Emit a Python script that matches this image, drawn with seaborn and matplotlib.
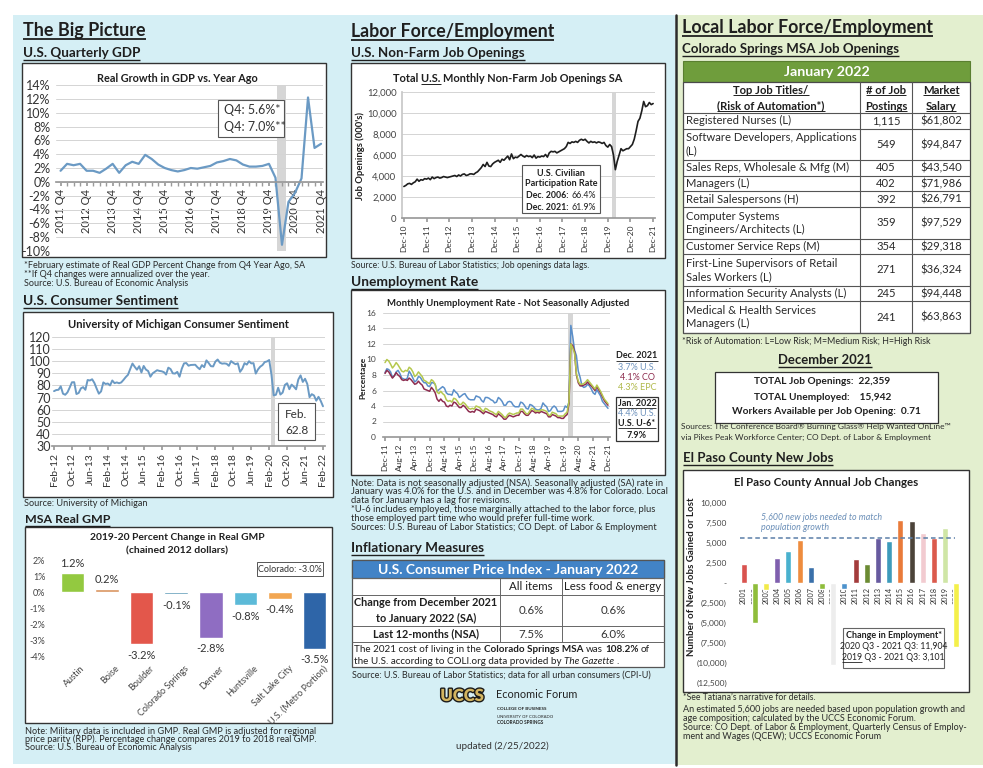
import matplotlib
matplotlib.use('Agg')
import matplotlib.pyplot as plt
import matplotlib.patches as mpatches
import matplotlib.patheffects as pe
from matplotlib.lines import Line2D
from matplotlib.transforms import ScaledTranslation
import seaborn as sns
import pandas as pd
import numpy as np

# ---------------- data ----------------
# U.S. quarterly real GDP growth vs. year ago (%), 2011 Q4 .. 2021 Q4
gdp_ticks = ['2011 Q4', '2012 Q4', '2013 Q4', '2014 Q4', '2015 Q4', '2016 Q4',
             '2017 Q4', '2018 Q4', '2019 Q4', '2020 Q4', '2021 Q4']
gdp_growth = [1.6,
              2.6, 2.4, 2.6, 1.6,
              1.6, 1.3, 1.9, 2.6,
              1.3, 2.4, 2.9, 2.6,
              3.9, 3.3, 2.5, 2.0,
              1.7, 1.5, 1.7, 2.0,
              1.9, 2.1, 2.3, 2.8,
              3.0, 3.3, 3.1, 2.5,
              2.2, 2.2, 2.3, 2.6,
              0.6, -9.1, -2.9, -1.6,
              0.5, 12.2, 4.9, 5.5]

# University of Michigan consumer sentiment, Feb-12 .. Feb-22
sent_ticks = ['Feb-12', 'Oct-12', 'Jun-13', 'Feb-14', 'Oct-14', 'Jun-15', 'Feb-16', 'Oct-16',
              'Jun-17', 'Feb-18', 'Oct-18', 'Jun-19', 'Feb-20', 'Oct-20', 'Jun-21', 'Feb-22']
sentiment = [75.3, 76.2, 76.4, 79.3, 73.2, 72.3, 74.3, 78.3, 82.6, 82.7, 72.9,
             73.8, 77.6, 78.6, 76.4, 84.5, 84.1, 85.1, 82.1, 77.5, 73.2, 75.1, 82.5,
             81.2, 81.6, 80.0, 84.1, 81.9, 82.5, 81.8, 82.5, 84.6, 86.9, 88.8, 93.6,
             98.1, 95.4, 93.0, 95.9, 90.7, 96.1, 93.1, 91.9, 87.2, 90.0, 91.3, 92.6,
             92.0, 91.7, 91.0, 89.0, 94.7, 93.5, 90.0, 89.8, 91.2, 87.2, 93.8, 98.2,
             98.5, 96.3, 96.9, 97.0, 97.1, 95.0, 93.4, 96.8, 95.1, 100.7, 98.5, 95.9,
             95.7, 99.7, 101.4, 98.8, 98.0, 98.2, 97.9, 96.2, 100.1, 98.6, 97.5, 98.3,
             91.2, 93.8, 98.4, 97.2, 100.0, 98.2, 98.4, 89.8, 93.2, 95.5, 96.8, 99.3,
             99.8, 101.0, 89.1, 71.8, 72.3, 78.1, 72.5, 74.1, 80.4, 81.8, 76.9, 80.7,
             79.0, 76.8, 84.9, 88.3, 82.9, 85.5, 81.2, 70.3, 72.8, 71.7, 67.4, 70.6,
             67.2, 62.8]

# MSA real GMP, 2019-20 percent change
gmp_areas = ['Austin', 'Boise', 'Boulder', 'Colorado Springs', 'Denver', 'Huntsville',
             'Salt Lake City', 'U.S. (Metro Portion)']
gmp_change = [1.2, 0.2, -3.2, -0.1, -2.8, -0.8, -0.4, -3.5]
gmp_colors = ['#93c940', '#d9935e', '#e3574b', '#3d87a9', '#8f6dc2', '#5cbad8', '#f2a652', '#2e65a8']

# U.S. non-farm job openings (000's, SA), Dec-10 .. Dec-21
jobs_ticks = ['Dec-10', 'Dec-11', 'Dec-12', 'Dec-13', 'Dec-14', 'Dec-15',
              'Dec-16', 'Dec-17', 'Dec-18', 'Dec-19', 'Dec-20', 'Dec-21']
job_openings = [3000,
                3100, 3250, 3300, 3200, 3350, 3450, 3700, 3500, 3650, 3600, 3750, 3700,
                3800, 3650, 3900, 3750, 3850, 3900, 3800, 3850, 3950, 3900, 3850, 3900,
                3950, 4000, 4050, 3950, 4100, 4000, 4150, 4200, 4050, 4100, 4200, 4200,
                4150, 4300, 4400, 4600, 4800, 5100, 4900, 5300, 4950, 4900, 5150, 5300,
                5400, 5500, 5300, 5600, 5500, 5700, 5900, 5550, 6100, 5650, 5800, 5750,
                5900, 6050, 5900, 5800, 5950, 5850, 5900, 5750, 6000, 5700, 5850, 5800,
                5900, 5850, 6050, 5800, 6200, 6350, 6300, 6350, 6200, 6300, 6400, 6500,
                6600, 6800, 7200, 7100, 7250, 7200, 7300, 7200, 7400, 7500, 7400, 7500,
                7300, 7150, 7300, 7200, 7250, 7150, 7250, 7200, 7100, 7200, 6900, 6750,
                7000, 6800, 6000, 4600, 5400, 6000, 6600, 6400, 6500, 6600, 6600, 6800,
                7000, 7500, 8300, 9200, 9500, 10200, 11100, 10600, 10700, 11000, 10800, 10900]

# Monthly unemployment rate (NSA), Dec-11 .. Dec-21
unemp_ticks = ['Dec-11', 'Aug-12', 'Apr-13', 'Dec-13', 'Aug-14', 'Apr-15', 'Dec-15', 'Aug-16',
               'Apr-17', 'Dec-17', 'Aug-18', 'Apr-19', 'Dec-19', 'Aug-20', 'Apr-21', 'Dec-21']
unemp_us = [8.3,
            8.8, 8.7, 8.4, 7.7, 7.9, 8.4, 8.6, 8.2, 7.6, 7.5, 7.4, 7.6,
            8.5, 8.1, 7.6, 7.1, 7.3, 7.8, 7.7, 7.3, 7.0, 7.0, 6.6, 6.5,
            7.0, 7.0, 6.8, 5.9, 6.1, 6.3, 6.5, 6.3, 5.7, 5.5, 5.5, 5.4,
            6.1, 5.8, 5.6, 5.1, 5.3, 5.5, 5.6, 5.2, 4.9, 4.8, 4.8, 4.8,
            5.3, 5.2, 5.1, 4.7, 4.5, 5.1, 5.1, 5.0, 4.8, 4.7, 4.4, 4.5,
            5.1, 4.9, 4.6, 4.1, 4.1, 4.5, 4.6, 4.5, 4.1, 3.9, 3.9, 3.9,
            4.5, 4.4, 4.1, 3.7, 3.6, 4.2, 4.1, 3.9, 3.6, 3.5, 3.5, 3.7,
            4.4, 4.1, 3.9, 3.3, 3.4, 3.8, 4.0, 3.8, 3.3, 3.3, 3.3, 3.4,
            4.0, 3.8, 4.5, 14.4, 13.0, 11.2, 10.5, 8.5, 7.7, 6.6, 6.4, 6.5,
            6.8, 6.6, 6.2, 5.7, 5.5, 6.1, 5.7, 5.3, 4.6, 4.3, 4.0, 3.7]
unemp_co = [8.2,
            8.6, 8.4, 8.0, 7.6, 7.9, 8.3, 8.0, 7.8, 7.4, 7.3, 7.4, 7.3,
            7.6, 7.4, 7.1, 6.8, 6.9, 7.2, 6.9, 6.7, 6.2, 6.1, 6.0, 5.9,
            6.4, 6.1, 5.7, 4.9, 4.6, 4.9, 4.6, 4.5, 4.0, 3.9, 4.1, 4.0,
            4.5, 4.4, 4.1, 3.8, 3.8, 4.1, 3.9, 3.6, 3.3, 3.2, 3.3, 3.2,
            3.6, 3.5, 3.4, 3.2, 3.0, 3.3, 3.2, 3.1, 3.0, 2.9, 2.7, 2.6,
            3.0, 2.8, 2.6, 2.3, 2.3, 2.6, 2.8, 2.7, 2.6, 2.7, 2.8, 2.8,
            3.3, 3.3, 3.0, 2.8, 2.8, 3.1, 3.4, 3.3, 3.1, 3.2, 3.1, 3.3,
            3.2, 3.1, 3.0, 2.6, 2.6, 2.9, 2.8, 2.7, 2.5, 2.5, 2.4, 2.4,
            2.7, 2.9, 4.3, 12.0, 11.8, 11.0, 8.0, 7.0, 6.6, 6.6, 6.7, 6.8,
            7.1, 6.8, 6.6, 6.3, 6.0, 6.5, 6.1, 5.7, 5.2, 4.7, 4.4, 4.1]
unemp_epc = [9.6,
             10.0, 9.8, 9.4, 8.9, 9.2, 9.6, 9.3, 8.9, 8.5, 8.4, 8.6, 8.5,
             9.0, 8.8, 8.4, 7.8, 8.0, 8.4, 8.1, 7.8, 7.3, 7.2, 7.0, 6.9,
             7.4, 7.2, 6.8, 5.8, 5.6, 5.9, 5.6, 5.4, 4.8, 4.6, 4.7, 4.5,
             5.0, 4.9, 4.6, 4.2, 4.2, 4.5, 4.3, 4.0, 3.7, 3.6, 3.7, 3.6,
             4.0, 3.9, 3.8, 3.5, 3.3, 3.7, 3.6, 3.4, 3.3, 3.2, 3.0, 2.9,
             3.3, 3.1, 2.9, 2.6, 2.5, 2.9, 3.1, 3.0, 2.9, 3.0, 3.1, 3.1,
             3.6, 3.6, 3.3, 3.0, 3.0, 3.4, 3.7, 3.6, 3.3, 3.4, 3.3, 3.5,
             3.5, 3.4, 3.3, 2.8, 2.8, 3.2, 3.1, 3.0, 2.7, 2.7, 2.7, 2.7,
             3.0, 3.2, 4.6, 12.0, 11.5, 10.8, 8.2, 7.2, 6.8, 6.8, 6.9, 7.1,
             7.4, 7.1, 6.8, 6.5, 6.2, 6.7, 6.3, 5.9, 5.4, 4.9, 4.6, 4.3]

# CPI table
cpi_rows = ['Change from December 2021\nto January 2022 (SA)', 'Last 12-months (NSA)']
cpi_all_items = [0.6, 7.5]
cpi_core = [0.6, 6.0]

# Colorado Springs MSA job openings, January 2022
job_titles = ['Registered Nurses (L)', 'Software Developers, Applications\n(L)',
              'Sales Reps, Wholesale & Mfg (M)', 'Managers (L)', 'Retail Salespersons (H)',
              'Computer Systems\nEngineers/Architects (L)', 'Customer Service Reps (M)',
              'First-Line Supervisors of Retail\nSales Workers (L)',
              'Information Security Analysts (L)', 'Medical & Health Services\nManagers (L)']
job_postings = [1115, 549, 405, 402, 392, 359, 354, 271, 245, 241]
job_salary = [61802, 94847, 43540, 71986, 26791, 97529, 29318, 36324, 94448, 63863]
total_openings = 22359
total_unemployed = 15942
workers_per_opening = 0.71

# El Paso County annual job changes
epc_years = ['2001', '2002', '2003', '2004', '2005', '2006', '2007', '2008', '2009', '2010',
             '2011', '2012', '2013', '2014', '2015', '2016', '2017', '2018', '2019', '2020']
epc_jobs = [2400, -5000, -900, 3100, 4050, 5400, 1950, -750, -10300, -750,
            3000, 2400, 5600, 5300, 7900, 7700, 6200, 5600, 6900, -8000]
epc_colors = ['#d9534f', '#8fbd3b', '#f2ea4a', '#7f5fae', '#49b1ce', '#ee8c3e', '#3a70aa',
              '#8fbd3b', '#ededed', '#4d92cc', '#a33c3c', '#6b8b33', '#675a9f', '#3d9bbb',
              '#e97b3a', '#4b4339', '#f2cbd0', '#db5a4c', '#cfe6a6', '#f4f04a']
jobs_needed = 5600

# ---------------- setup ----------------
sns.set_theme(style='white')
plt.rcParams['font.family'] = ['Lato', 'DejaVu Sans']
plt.rcParams['axes.unicode_minus'] = False

W, H = 983, 768
INK = '#1f1f1f'
fig = plt.figure(figsize=(W / 100, H / 100), dpi=100)
fig.patch.set_facecolor('white')
pg = fig.add_axes([0, 0, 1, 1], zorder=0)
pg.set_xlim(0, W)
pg.set_ylim(H, 0)
pg.set_autoscale_on(False)
pg.axis('off')
R = fig.canvas.get_renderer()


def put(x, y, s, size, weight='normal', color=INK, ha='left', va='center', style='normal', ax=None, **kw):
    tgt = ax if ax is not None else pg
    return tgt.text(x, y, s, fontsize=size, fontweight=weight, fontstyle=style, color=color,
                    ha=ha, va=va, transform=pg.transData, clip_on=False, **kw)


def measure(s, size, weight='normal', style='normal'):
    t = pg.text(0, 0, s, fontsize=size, fontweight=weight, fontstyle=style)
    w = t.get_window_extent(R).width
    t.remove()
    return w


def fit(s, width, weight='normal', style='normal'):
    return 10 * width / measure(s, 10, weight, style)


def hline(x0, x1, y, lw=0.8, color=INK, ax=None, **kw):
    tgt = ax if ax is not None else pg
    tgt.add_line(Line2D([x0, x1], [y, y], transform=pg.transData, color=color, lw=lw,
                        solid_capstyle='butt', clip_on=False, **kw))


def vline(x, y0, y1, lw=0.8, color=INK, ax=None):
    tgt = ax if ax is not None else pg
    tgt.add_line(Line2D([x, x], [y0, y1], transform=pg.transData, color=color, lw=lw, clip_on=False))


def under(t, y, lw=0.8, ax=None, color=INK):
    bb = t.get_window_extent(R)
    hline(bb.x0, bb.x1, y, lw=lw, ax=ax, color=color)


def rect(x0, y0, x1, y1, fc='white', ec='#333333', lw=1.0, ax=None, z=1):
    tgt = ax if ax is not None else pg
    tgt.add_patch(mpatches.Rectangle((x0, y0), x1 - x0, y1 - y0, fc=fc, ec=ec, lw=lw, zorder=z,
                                     transform=pg.transData, clip_on=False))


def heading(x, base, s, width, lw=1.0, ha='left'):
    t = put(x, base, s, fit(s, width, 'bold'), 'bold', va='baseline', ha=ha)
    under(t, base + 2.5, lw=lw)
    return t


def notes(x, y0, step, lines, width, color='#2a2a2a'):
    size = fit(lines[0], width)
    for i, s in enumerate(lines):
        put(x, y0 + i * step, s, size, color=color)
    return size


def runs(x, y, parts, size, ha='left', color=INK, ax=None):
    sp = measure('a a', size) - measure('aa', size)
    items, cur = [], 0.0
    for s, w, st in parts:
        if s.startswith(' '):
            cur += sp
        t = put(0, y, s.strip(), size, w, color=color, style=st, ax=ax)
        items.append((t, cur))
        cur += t.get_window_extent(R).width
        if s.endswith(' '):
            cur += sp
    start = x - cur / 2 if ha == 'center' else x
    for t, off in items:
        t.set_x(start + off)


def chart(x0, y0, x1, y1):
    ax = fig.add_axes([x0 / W, 1 - y1 / H, (x1 - x0) / W, (y1 - y0) / H], zorder=2)
    ax.patch.set_visible(False)
    return ax


# ---------------- page backgrounds ----------------
pg.add_patch(mpatches.Rectangle((13, 15), 662, 749, fc='#d5eff5', ec='none', zorder=0))
pg.add_patch(mpatches.Rectangle((677, 15), 306, 750, fc='#e3efcf', ec='none', zorder=0))
vline(675.5, 15, 765, lw=1.8, color='#2b2b2b')

# ================= LEFT COLUMN =================
heading(23, 36, 'The Big Picture', 122, lw=1.3)
heading(23, 57, 'U.S. Quarterly GDP', 117)

# --- GDP chart ---
rect(22, 63, 326, 257)
put(177, 78, 'Real Growth in GDP vs. Year Ago', fit('Real Growth in GDP vs. Year Ago', 161, 'bold'), 'bold', ha='center')
ax = chart(56, 85, 323, 251)
ax.axvspan(33.3, 34.6, color='#d6d6d6', lw=0, zorder=0)
sns.lineplot(x=np.arange(len(gdp_growth)), y=gdp_growth, ax=ax, color='#6b9ac4', lw=1.6)
ax.set_xlim(-0.7, 40.3)
ax.set_ylim(-10, 14)
ax.set_yticks(np.arange(-10, 15, 2))
ax.set_yticklabels([f'{v}%' for v in range(-10, 15, 2)])
ax.grid(axis='y', color='#d4d4d4', lw=0.7)
ax.set_axisbelow(True)
for s in ('top', 'right', 'left'):
    ax.spines[s].set_visible(False)
ax.spines['bottom'].set_position(('data', 0))
ax.spines['bottom'].set_color('#9a9a9a')
ax.set_xticks(np.arange(0, len(gdp_growth), 4))
ax.set_xticklabels(gdp_ticks, rotation=90, fontsize=8)
ax.set_xticks(np.arange(len(gdp_growth)), minor=True)
ax.tick_params(axis='x', which='both', bottom=True, length=3, color='#9a9a9a', pad=2, labelcolor='#333')
ax.tick_params(axis='y', length=0, labelsize=9, pad=4, labelcolor='#333')
ax.set(xlabel='', ylabel='')
rect(218, 100, 284, 137, ec='#555555', lw=0.8, ax=ax, z=5)
put(224, 110, 'Q4: 5.6%*', 9, ax=ax, color='#333', zorder=6)
put(224, 127, 'Q4: 7.0%**', 9, ax=ax, color='#333', zorder=6)

notes(24, 266, 8.7, ['*February estimate of Real GDP Percent Change from Q4 Year Ago, SA',
                     '**If Q4 changes were annualized over the year.',
                     'Source: U.S. Bureau of Economic Analysis'], 280)

# --- Consumer sentiment ---
heading(23, 305, 'U.S. Consumer Sentiment', 156)
rect(23, 312, 333, 497)
put(178, 325, 'University of Michigan Consumer Sentiment',
    fit('University of Michigan Consumer Sentiment', 223, 'bold'), 'bold', ha='center')
ax = chart(52, 337, 325, 446)
ax.axvspan(96.9, 98.6, color='#d6d6d6', lw=0, zorder=0)
sns.lineplot(x=np.arange(len(sentiment)), y=sentiment, ax=ax, color='#6b9ac4', lw=1.4)
ax.set_xlim(-0.9, 120.9)
ax.set_ylim(30, 120)
ax.set_yticks(np.arange(30, 121, 10))
ax.grid(axis='y', color='#d4d4d4', lw=0.7)
ax.set_axisbelow(True)
for s in ('top', 'right', 'left'):
    ax.spines[s].set_visible(False)
ax.spines['bottom'].set_color('#9a9a9a')
ax.set_xticks(np.arange(0, len(sentiment), 8))
ax.set_xticklabels(sent_ticks, rotation=90, fontsize=7.5)
ax.tick_params(axis='x', bottom=True, length=3, color='#9a9a9a', pad=2, labelcolor='#333')
ax.tick_params(axis='y', length=0, labelsize=9, pad=1, labelcolor='#333')
ax.set(xlabel='', ylabel='')
rect(278, 403, 315, 440, ec='#555555', lw=0.8, ax=ax, z=5)
t = put(296.5, 414, 'Feb.', 8.5, ha='center', ax=ax, color='#333', zorder=6)
under(t, 419.5, lw=0.7, ax=ax, color='#333')
put(296.5, 431, f'{sentiment[-1]}', 8.5, ha='center', ax=ax, color='#333', zorder=6)
notes(24, 503, 9, ['Source: University of Michigan'], 123)

# --- MSA real GMP ---
heading(25, 523, 'MSA Real GMP', 85)
rect(25, 527, 332, 723)
put(177, 538, '2019-20 Percent Change in Real GMP', fit('2019-20 Percent Change in Real GMP', 175, 'bold'), 'bold', ha='center')
put(177, 551, '(chained 2012 dollars)', fit('(chained 2012 dollars)', 102, 'bold'), 'bold', ha='center')
ax = chart(55, 560, 332, 657)
sns.barplot(x=gmp_areas, y=gmp_change, hue=gmp_areas, palette=gmp_colors, saturation=1,
            width=0.68, legend=False, ax=ax)
ax.set_xlim(-0.5, 7.5)
ax.set_ylim(-4, 2)
ax.set_yticks(np.arange(-4, 3, 1))
ax.set_yticklabels([f'{v}%' for v in range(-4, 3)])
sns.despine(ax=ax, left=True, bottom=True)
ax.tick_params(axis='y', length=0, labelsize=6.5, pad=7, labelcolor='#444')
ax.tick_params(axis='x', length=0, labelsize=6.5, pad=5, labelcolor='#444')
for lbl in ax.get_xticklabels():
    lbl.set_rotation(45)
    lbl.set_ha('right')
    lbl.set_va('top')
    lbl.set_rotation_mode('anchor')
    lbl.set_transform(lbl.get_transform() + ScaledTranslation(0.08, 0, fig.dpi_scale_trans))
for i, v in enumerate(gmp_change):
    ax.annotate(f'{v}%', (i, v), xytext=(0, 3 if v > 0 else -4), textcoords='offset points',
                ha='center', va='bottom' if v > 0 else 'top', fontsize=8, color='#333')
ax.set(xlabel='', ylabel='')
rect(257, 562, 323, 576, ec='#555555', lw=0.7)
put(290, 569, 'Colorado: -3.0%', 6.5, ha='center', color='#333', zorder=3)
notes(25, 731, 8.5, ['Note: Military data is included in GMP. Real GMP is adjusted for regional',
                     'price parity (RPP). Percentage change compares 2019 to 2018 real GMP.',
                     'Source: U.S. Bureau of Economic Analysis'], 290)

# ================= MIDDLE COLUMN =================
heading(351, 37, 'Labor Force/Employment', 204, lw=1.3)
heading(351, 57, 'U.S. Non-Farm Job Openings', 172)

# --- job openings ---
rect(351, 63, 665, 258)
jt = 'Total U.S. Monthly Non-Farm Job Openings SA'
jsz = fit(jt, 230, 'bold')
t = put(508, 78, jt, jsz, 'bold', ha='center')
bb = t.get_window_extent(R)
u0 = bb.x0 + measure('Total U.S.', jsz, 'bold') - measure('U.S.', jsz, 'bold')
hline(u0, u0 + measure('U.S.', jsz, 'bold'), 83.5, lw=0.7)
ax = chart(402, 92, 655, 218)
ax.axvspan(110.2, 112.2, color='#d6d6d6', lw=0, zorder=0)
sns.lineplot(x=np.arange(len(job_openings)), y=job_openings, ax=ax, color='#1e1e1e', lw=1.2)
ax.set_xlim(-1, 133)
ax.set_ylim(0, 12000)
ax.set_yticks(np.arange(0, 12001, 2000))
ax.set_yticklabels([f'{v:,}' for v in range(0, 12001, 2000)])
ax.grid(axis='y', color='#d4d4d4', lw=0.7)
ax.set_axisbelow(True)
for s in ('top', 'right'):
    ax.spines[s].set_visible(False)
ax.spines['left'].set_color('#c8c8c8')
ax.spines['bottom'].set_color('#9a9a9a')
ax.set_xticks(np.arange(0, len(job_openings), 12))
ax.set_xticklabels(jobs_ticks, rotation=90, fontsize=6)
ax.tick_params(axis='x', bottom=True, length=3, color='#9a9a9a', pad=2, labelcolor='#333')
ax.tick_params(axis='y', length=0, labelsize=6.8, pad=4, labelcolor='#444')
ax.set(xlabel='', ylabel='')
put(360, 156, "Job Openings (000's)", 6.8, 'bold', ha='center', rotation=90)
rect(522, 165, 600, 213, ec='#555555', lw=0.8, ax=ax, z=5)
for yy, s in ((173, 'U.S. Civilian'), (184, 'Participation Rate')):
    t = put(561, yy, s, 6.5, 'bold', ha='center', ax=ax, zorder=6)
    under(t, yy + 4.5, lw=0.6, ax=ax)
runs(561, 196, [('Dec. 2006: ', 'bold', 'normal'), ('66.4%', 'normal', 'normal')], 6.3, ha='center', ax=ax)
runs(561, 207, [('Dec. 2021: ', 'bold', 'normal'), ('61.9%', 'normal', 'normal')], 6.3, ha='center', ax=ax)
for c in ax.texts:
    c.set_zorder(6)
notes(351, 266, 9, ['Source: U.S. Bureau of Labor Statistics; Job openings data lags.'], 239)

# --- unemployment ---
heading(351, 286, 'Unemployment Rate', 127)
rect(351, 290, 665, 475)
ut = 'Monthly Unemployment Rate - Not Seasonally Adjusted'
put(508, 303, ut, fit(ut, 243, 'bold'), 'bold', ha='center')
ax = chart(383, 313, 610, 437)
ax.axvspan(98.5, 101, color='#d6d6d6', lw=0, zorder=0)
n = len(unemp_us)
unemp = pd.DataFrame({'month': list(range(n)) * 3,
                      'rate': unemp_us + unemp_co + unemp_epc,
                      'area': ['U.S.'] * n + ['CO'] * n + ['EPC'] * n})
sns.lineplot(data=unemp, x='month', y='rate', hue='area',
             palette={'U.S.': '#5b8fc9', 'CO': '#8e2d4f', 'EPC': '#b5c84e'},
             lw=1.1, legend=False, ax=ax)
ax.set_xlim(-1.08, 121.08)
ax.set_ylim(0, 16)
ax.set_yticks(np.arange(0, 17, 2))
ax.grid(axis='y', color='#d4d4d4', lw=0.7)
ax.set_axisbelow(True)
for s in ('top', 'right', 'left'):
    ax.spines[s].set_visible(False)
ax.spines['bottom'].set_color('#9a9a9a')
ax.set_xticks(np.arange(0, n, 8))
ax.set_xticklabels(unemp_ticks, rotation=90, fontsize=6)
ax.tick_params(axis='x', bottom=True, length=3, color='#9a9a9a', pad=2, labelcolor='#333')
ax.tick_params(axis='y', length=0, labelsize=6, pad=5, labelcolor='#444')
ax.set(xlabel='', ylabel='')
put(363, 378, 'Percentage', 6, 'bold', ha='center', rotation=90)
t = put(637, 356, 'Dec. 2021', 6.5, 'bold', ha='center')
under(t, 360.5, lw=0.6)
put(637, 367, f'{unemp_us[-1]}% U.S.', 6.5, ha='center', color='#6f93bd')
put(637, 377, f'{unemp_co[-1]}% CO', 6.5, ha='center', color='#8e2d4f')
put(637, 387, f'{unemp_epc[-1]}% EPC', 6.5, ha='center', color='#b0b94a')
rect(616, 397, 658, 441, ec='#333333', lw=0.9)
t = put(637, 403, 'Jan. 2022', 6.5, 'bold', ha='center', zorder=3)
under(t, 407.5, lw=0.6)
put(637, 413, '4.4% U.S.', 6.5, ha='center', color='#6f93bd', zorder=3)
t = put(637, 423, 'U.S. U-6*', 6.5, 'bold', ha='center', zorder=3)
under(t, 427.5, lw=0.6)
put(637, 435, '7.9%', 6.5, 'bold', ha='center', zorder=3)
notes(351, 483, 8.9, ['Note: Data is not seasonally adjusted (NSA). Seasonally adjusted (SA) rate in',
                      'January was 4.0% for the U.S. and in December was 4.8% for Colorado. Local',
                      'data for January has a lag for revisions.',
                      '*U-6 includes employed, those marginally attached to the labor force, plus',
                      'those employed part time who would prefer full-time work.',
                      'Sources: U.S. Bureau of Labor Statistics; CO Dept. of Labor & Employment'], 310)

# --- CPI table ---
heading(351, 552, 'Inflationary Measures', 133)
rect(352, 560, 664, 667, ec='#555555', lw=0.9)
rect(352, 560, 664, 578, fc='#4283c6', ec='#555555', lw=0.9)
ct = 'U.S. Consumer Price Index - January 2022'
put(508, 569.5, ct, fit(ct, 261, 'bold'), 'bold', color='white', ha='center')
for yy in (578, 595, 626, 642):
    hline(352, 664, yy, lw=0.7, color='#666')
vline(500, 578, 642, lw=0.7, color='#666')
vline(562, 578, 642, lw=0.7, color='#666')
hsz = fit('Less food & energy', 97)
put(531, 587, 'All items', hsz, ha='center')
put(613, 587, 'Less food & energy', hsz, ha='center')
rsz = fit('Change from December 2021', 144, 'bold')
for (s, a, b), yy in zip(zip(cpi_rows, cpi_all_items, cpi_core), (610.5, 634)):
    put(426, yy, s, rsz, 'bold', ha='center', linespacing=1.45)
    put(531, yy, f'{a}%', hsz, ha='center', color='#333')
    put(613, yy, f'{b}%', hsz, ha='center', color='#333')
lsz = fit('The 2021 cost of living in the Colorado Springs MSA was 108.2% of', 296)
runs(354, 650, [('The 2021 cost of living in the ', 'normal', 'normal'),
                ('Colorado Springs MSA', 'bold', 'normal'), (' was ', 'normal', 'normal'),
                ('108.2%', 'bold', 'normal'), (' of', 'normal', 'normal')], lsz)
runs(354, 661, [('the U.S. according to COLI.org data provided by ', 'normal', 'normal'),
                ('The Gazette', 'normal', 'italic'), (' .', 'normal', 'normal')], lsz)
notes(352, 675, 9, ['Source: U.S. Bureau of Labor Statistics; data for all urban consumers (CPI-U)'], 298)

# --- logo / footer ---
put(462, 696, 'UCCS', 12, 'heavy', color='#d2b460', ha='center',
    path_effects=[pe.withStroke(linewidth=2.0, foreground='#1a1a1a')])
put(496, 695, 'Economic Forum', fit('Economic Forum', 81), color='#222')
put(497, 709, 'COLLEGE OF BUSINESS', fit('COLLEGE OF BUSINESS', 49, 'bold'), 'bold', color='#222')
put(497, 717.5, 'UNIVERSITY OF COLORADO', fit('UNIVERSITY OF COLORADO', 56), color='#222')
put(497, 723, 'COLORADO SPRINGS', fit('COLORADO SPRINGS', 47, 'bold'), 'bold', color='#222')
put(502, 746, 'updated (2/25/2022)', fit('updated (2/25/2022)', 93), ha='center', color='#333')

# ================= RIGHT COLUMN =================
heading(682, 33, 'Local Labor Force/Employment', 251, lw=1.3)
heading(682, 53, 'Colorado Springs MSA Job Openings', 218)

tx0, tx1, c1, c2 = 683, 970, 860, 912
rect(tx0, 61, tx1, 82, fc='#6f9d3c', ec='#5a7f30', lw=0.8)
put((tx0 + tx1) / 2, 72, 'January 2022', fit('January 2022', 86, 'bold'), 'bold', color='white', ha='center')
rect(tx0, 82, tx1, 333, ec='#4a4a4a', lw=0.9)
vline(c1, 82, 333, lw=0.8, color='#555')
vline(c2, 82, 333, lw=0.8, color='#555')
hline(tx0, tx1, 113, lw=0.8, color='#555')
tsz = fit('Registered Nurses (L)', 105)
for xc, l1, l2 in ((771, 'Top Job Titles/', '(Risk of Automation*)'),
                   (886, '# of Job', 'Postings'), (941, 'Market', 'Salary')):
    for yy, s in ((90, l1), (106, l2)):
        t = put(xc, yy, s, tsz, 'bold', ha='center')
        under(t, yy + 5, lw=0.7)
y = 113.0
for title, posts, sal in zip(job_titles, job_postings, job_salary):
    h = 15.7 * (title.count('\n') + 1)
    cy = y + h / 2
    put(686, cy, title, tsz, linespacing=1.3, color='#2a2a2a')
    put(886, cy, f'{posts:,}', tsz, ha='center', color='#2a2a2a')
    put(941, cy, f'${sal:,}', tsz, ha='center', color='#2a2a2a')
    y += h
    hline(tx0, tx1, y, lw=0.8, color='#555')
notes(682, 341, 9, ['*Risk of Automation: L=Low Risk; M=Medium Risk; H=High Risk'], 249)

heading(825, 364, 'December 2021', 95, ha='center')
rect(715, 372, 938, 423, ec='#333333', lw=0.9)
bsz = fit('Workers Available per Job Opening:  0.71', 188, 'bold')
put(822, 382, f'TOTAL Job Openings:  {total_openings:,}', bsz, 'bold', ha='center')
put(823, 397, f'TOTAL Unemployed:    {total_unemployed:,}', bsz, 'bold', ha='center')
put(826, 411, f'Workers Available per Job Opening:  {workers_per_opening}', bsz, 'bold', ha='center')
notes(681, 427, 10, ['Sources: The Conference Board\u00ae Burning Glass\u00ae Help Wanted OnLine\u2122',
                     'via Pikes Peak Workforce Center; CO Dept. of Labor & Employment'], 270)

# --- El Paso County chart ---
heading(683, 462, 'El Paso County New Jobs', 150)
rect(683, 470, 969, 692)
et = 'El Paso County Annual Job Changes'
put(826, 482, et, fit(et, 183, 'bold'), 'bold', ha='center')
ax = chart(738, 503, 962, 683)
sns.barplot(x=epc_years, y=epc_jobs, hue=epc_years, palette=epc_colors, saturation=1,
            width=0.55, legend=False, ax=ax)
ax.axhline(jobs_needed, xmin=0.01, xmax=0.97, color='#5b7fa8', lw=1.1, ls=(0, (3, 2)))
ax.set_xlim(-0.5, 19.5)
ax.set_ylim(-12500, 10000)
yt = np.arange(-12500, 10001, 2500)
ax.set_yticks(yt)
ax.set_yticklabels([f'{v:,}' if v > 0 else ('-' if v == 0 else f'({-v:,})') for v in yt])
for s in ('top', 'right', 'left'):
    ax.spines[s].set_visible(False)
ax.spines['bottom'].set_position(('data', 0))
ax.spines['bottom'].set_linewidth(0)
ax.tick_params(axis='x', length=0, labelsize=5.3, pad=3, labelrotation=90, labelcolor='#333')
ax.tick_params(axis='y', length=0, labelsize=6, pad=8, labelcolor='#444')
ax.set(xlabel='', ylabel='')
nsz = fit('5,600 new jobs needed to match', 121, style='italic')
put(761, 517, '5,600 new jobs needed to match', nsz, style='italic', color='#6b8fb8')
put(761, 527, 'population growth', nsz, style='italic', color='#6b8fb8')
put(691, 577, 'Number of New Jobs Gained or Lost', 7, 'bold', ha='center', rotation=90)
rect(843, 628, 944, 668, ec='#666666', lw=0.8, ax=ax, z=5)
t = put(893.5, 635.5, 'Change in Employment*', 6.5, 'bold', ha='center', ax=ax, zorder=6)
under(t, 640, lw=0.6, ax=ax)
put(893.5, 646.5, '2020 Q3 - 2021 Q3: 11,904', 6.2, ha='center', ax=ax, zorder=6)
t = put(893.5, 657, '2019 Q3 - 2021 Q3: 3,101', 6.2, ha='center', ax=ax, zorder=6)
bb = t.get_window_extent(R)
hline(bb.x0, bb.x0 + measure('2019', 6.2), 661.5, lw=0.6, ax=ax, zorder=6)
notes(683, 698, 10, ['*See Tatiana\u2019s narrative for details.'], 131)
notes(683, 710, 8.5, ['An estimated 5,600 jobs are needed based upon population growth and',
                      'age composition; calculated by the UCCS Economic Forum.'], 285)
notes(683, 727.5, 8.5, ['Source: CO Dept. of Labor & Employment, Quarterly Census of Employ-',
                        'ment and Wages (QCEW); UCCS Economic Forum'], 283)

fig.savefig('out.png', dpi=100, facecolor='white')
